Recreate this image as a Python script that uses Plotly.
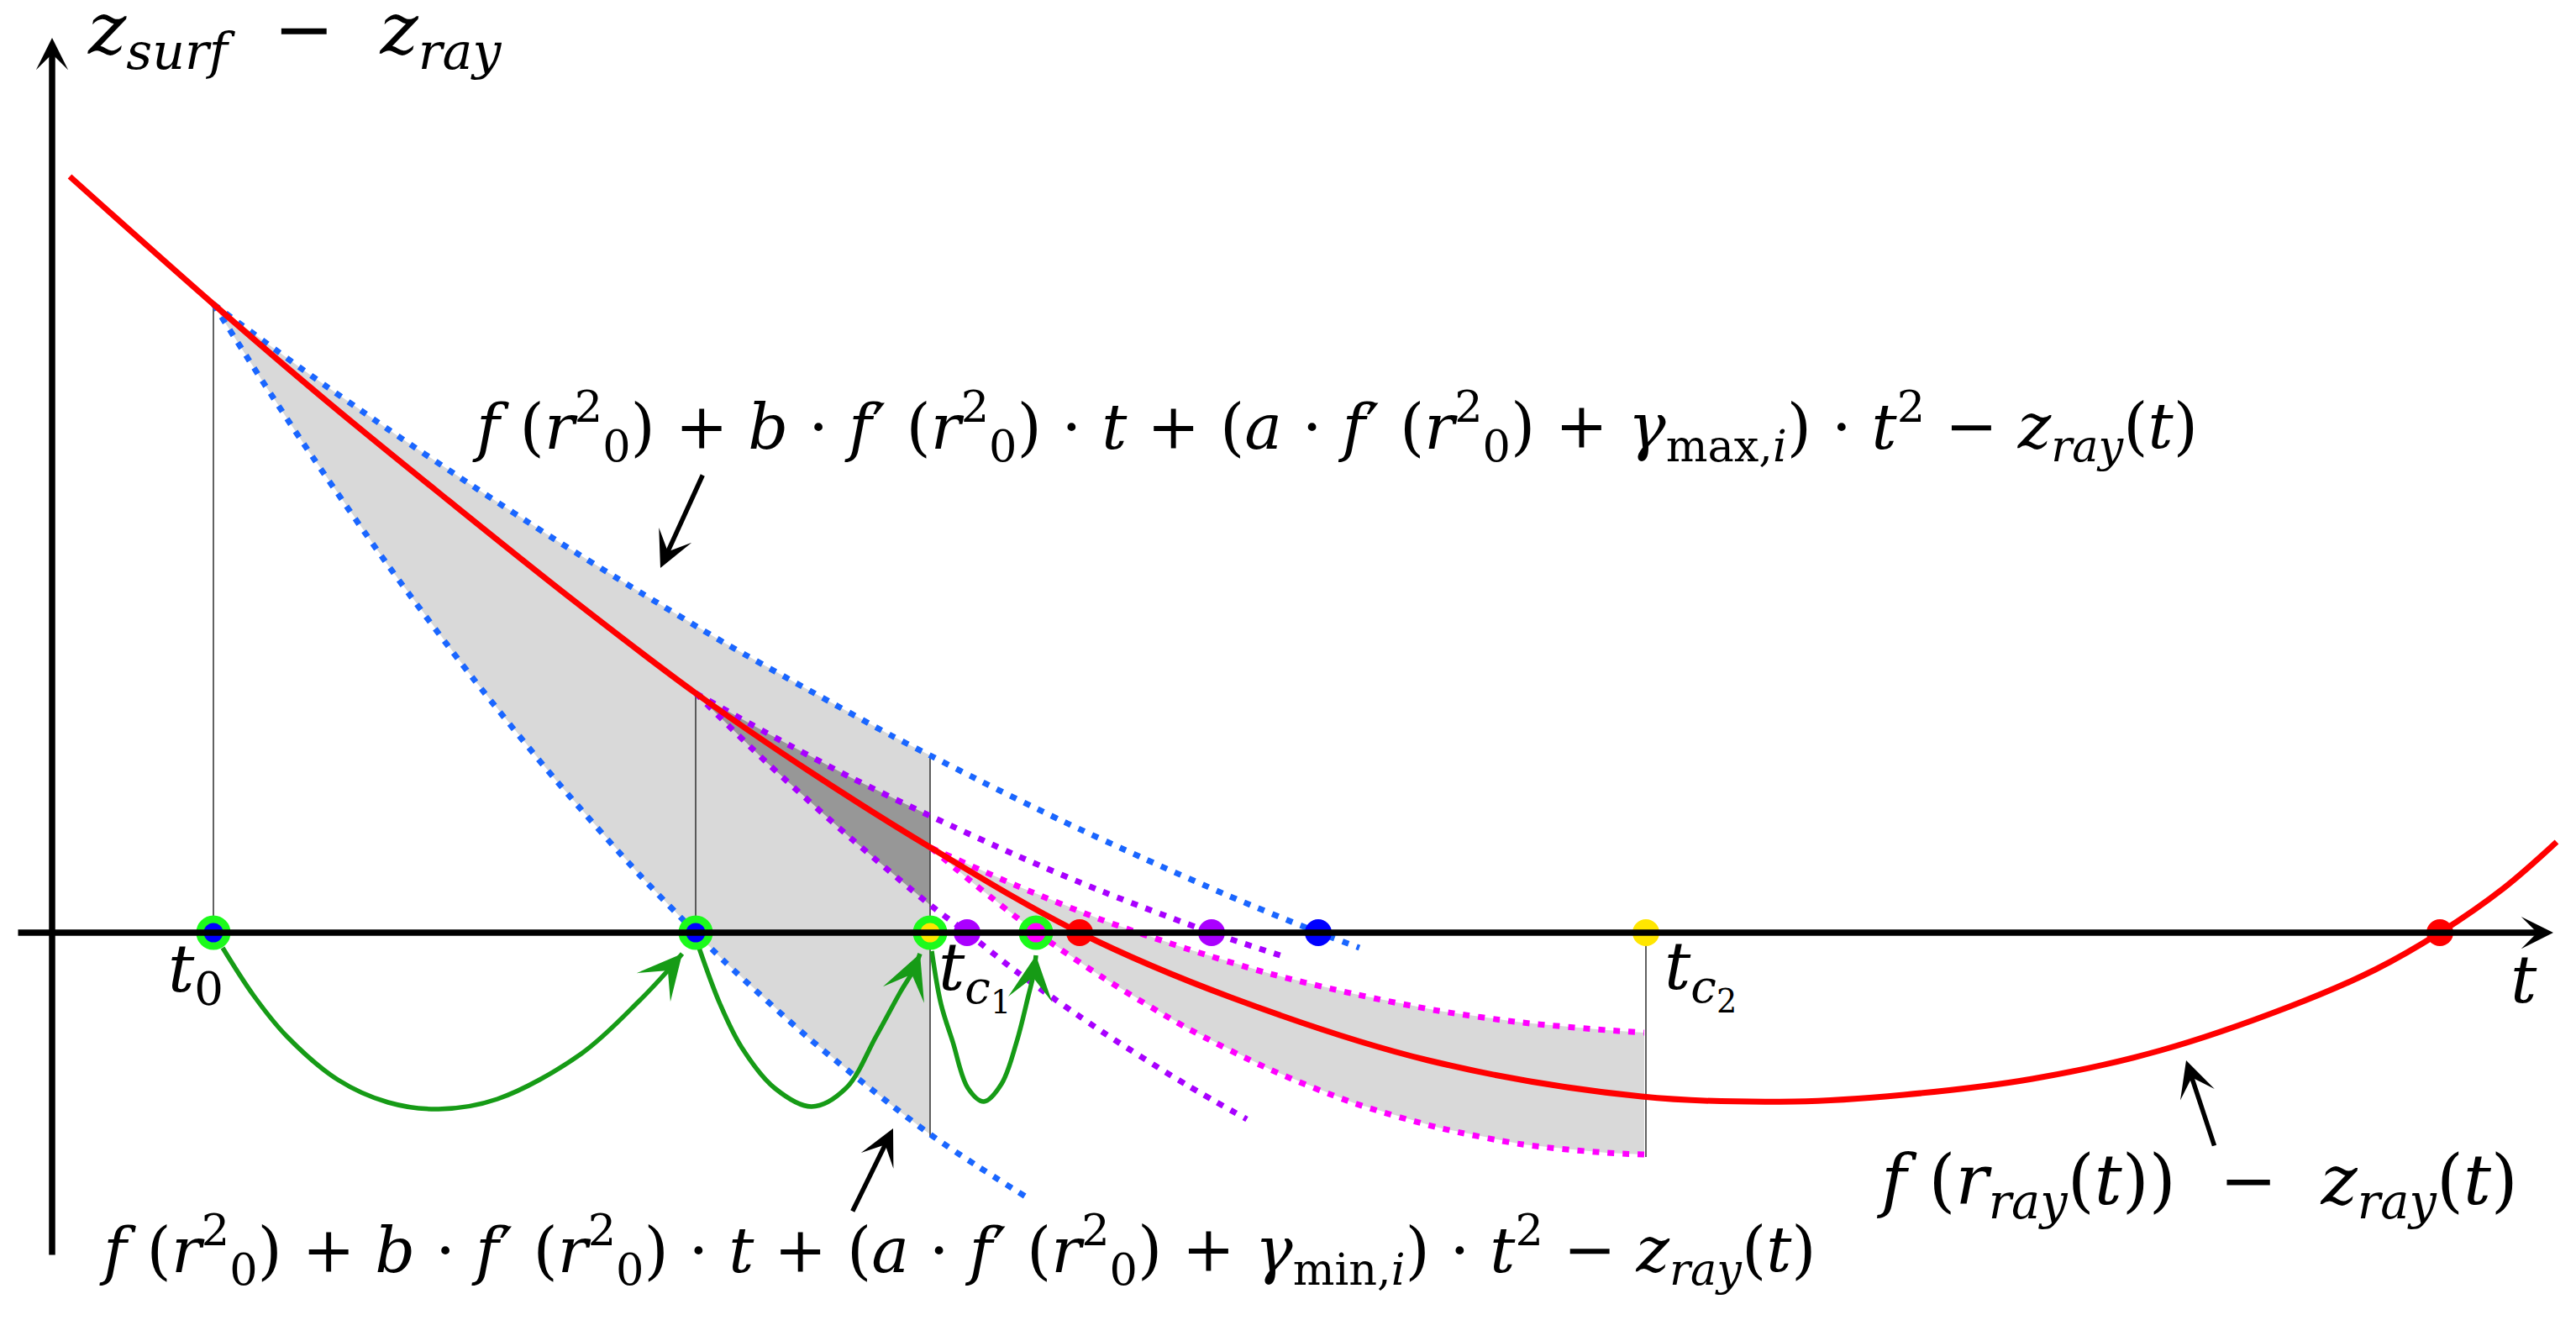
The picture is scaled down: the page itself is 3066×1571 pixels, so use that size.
import plotly.graph_objects as go

# ── curves (t along the axis, z = z_surf - z_ray) ──
t_red = [0.21, 1.92, 3.3, 4.71, 6.2, 7.66, 9.0, 10.46, 12.23, 14.03, 16.38, 18.92, 20.74, 22.04, 23.57,
         25.10, 26.63, 27.65, 28.42, 29.18, 29.81]
z_red = [9.00, 7.48, 6.30, 5.15, 3.96, 2.85, 1.93, 1.01, 0.00, -0.77, -1.52, -1.95, -2.01, -1.93, -1.74,
         -1.40, -0.88, -0.44, 0.00, 0.53, 1.08]

# bounds from t0 (blue)
t_blue_up = [1.92, 3, 4, 5, 6, 7, 8, 9, 10, 10.45, 11, 12, 13, 14, 15, 15.56]
z_blue_up = [7.48, 6.69, 5.99, 5.32, 4.67, 4.05, 3.45, 2.89, 2.34, 2.11, 1.83, 1.34, 0.88, 0.44, 0.03, -0.18]
t_blue_lo = [1.92, 2.5, 3, 4, 5, 6, 7, 7.66, 8, 9, 10, 10.45, 11, 11.6]
z_blue_lo = [7.48, 6.57, 5.81, 4.37, 3.04, 1.81, 0.68, 0.00, -0.34, -1.25, -2.06, -2.40, -2.77, -3.15]

# bounds from t1 (purple)
t_purp_up = [7.66, 8.5, 9.5, 10.45, 11.5, 12.5, 13.8, 14.71]
z_purp_up = [2.85, 2.38, 1.85, 1.39, 0.91, 0.49, 0.00, -0.30]
t_purp_lo = [7.66, 8.5, 9.5, 10.45, 10.89, 11.5, 12.5, 13.5, 14.22]
z_purp_lo = [2.85, 2.03, 1.13, 0.33, 0.00, -0.48, -1.18, -1.81, -2.22]

# bounds from t_c1 (magenta)
t_mag_up = [10.46, 11.5, 12.5, 13.5, 14.5, 15.5, 16.5, 17.5, 18.5, 18.95]
z_mag_up = [1.01, 0.55, 0.15, -0.19, -0.49, -0.73, -0.93, -1.07, -1.16, -1.19]
t_mag_lo = [10.46, 11, 11.72, 12.5, 13.5, 14.5, 15.5, 16.5, 17.5, 18.5, 18.95]
z_mag_lo = [1.01, 0.56, 0.00, -0.53, -1.13, -1.63, -2.03, -2.32, -2.52, -2.62, -2.64]

# green jumps t0 -> t1 -> t_c1 -> next
jump1_t = [2.03, 2.4, 2.79, 3.4, 4.0, 4.6, 5.3, 6.3, 7.0, 7.33, 7.5]
jump1_z = [-0.18, -0.75, -1.23, -1.75, -2.02, -2.10, -1.98, -1.44, -0.80, -0.45, -0.25]
jump2_t = [7.70, 7.95, 8.21, 8.6, 9.04, 9.45, 9.81, 10.1, 10.25, 10.33]
jump2_z = [-0.18, -0.85, -1.37, -1.85, -2.07, -1.85, -1.23, -0.70, -0.45, -0.25]
jump3_t = [10.47, 10.58, 10.72, 10.9, 11.09, 11.3, 11.48, 11.62, 11.68, 11.71]
jump3_z = [-0.22, -0.85, -1.30, -1.85, -2.01, -1.80, -1.30, -0.75, -0.50, -0.27]

# thin vertical guides
vline_t = [1.92, 7.66, 10.45, 18.97]
vline_top = [7.48, 2.85, 2.11, 0.0]
vline_bot = [0.0, 0.0, -2.43, -2.67]

# points on the t axis
ring_t = [1.92, 7.66, 10.45, 11.71]
ring_fill = ["#0000ff", "#0000ff", "#ffe600", "#ff00ff"]
dot_t = [10.89, 12.23, 13.80, 15.07, 18.97, 28.42]
dot_col = ["#aa00ff", "#ff0000", "#aa00ff", "#0000ff", "#ffe600", "#ff0000"]

FONT = "DejaVu Serif"
DOTS = "8px,10px"

fig = go.Figure()


def region(ta, za, tb, zb, t_end):
    # area between two bounds from their common start up to t_end
    n_a = len([t for t in ta if t <= t_end])
    n_b = len([t for t in tb if t <= t_end])
    return ta[:n_a] + tb[:n_b][::-1], za[:n_a] + zb[:n_b][::-1]


for (ta, za, tb, zb, t_end, col) in [
    (t_blue_up, z_blue_up, t_blue_lo, z_blue_lo, 10.45, "#d9d9d9"),
    (t_mag_up, z_mag_up, t_mag_lo, z_mag_lo, 18.95, "#d9d9d9"),
    (t_purp_up, z_purp_up, t_purp_lo, z_purp_lo, 10.45, "#979797"),
]:
    px, pz = region(ta, za, tb, zb, t_end)
    fig.add_trace(go.Scatter(x=px, y=pz, mode="lines", fill="toself", fillcolor=col,
                             line=dict(width=0), hoverinfo="skip"))

# thin guides
gx, gy = [], []
for t, a, b in zip(vline_t, vline_top, vline_bot):
    gx += [t, t, None]
    gy += [a, b, None]
fig.add_trace(go.Scatter(x=gx, y=gy, mode="lines", line=dict(color="#3a3a3a", width=1.6), hoverinfo="skip"))

# dotted bounds
for t, z, col in [
    (t_blue_up, z_blue_up, "#1a66ff"), (t_blue_lo, z_blue_lo, "#1a66ff"),
    (t_purp_up, z_purp_up, "#a800ff"), (t_purp_lo, z_purp_lo, "#a800ff"),
    (t_mag_up, z_mag_up, "#ff00ff"), (t_mag_lo, z_mag_lo, "#ff00ff"),
]:
    fig.add_trace(go.Scatter(x=t, y=z, mode="lines",
                             line=dict(color=col, width=7, dash=DOTS, shape="spline", smoothing=0.8),
                             hoverinfo="skip"))

# red function
fig.add_trace(go.Scatter(x=t_red, y=z_red, mode="lines",
                         line=dict(color="#ff0000", width=7, shape="spline", smoothing=1.0),
                         hoverinfo="skip"))

# green jumps
GREEN = "#169b16"
for jt, jz in [(jump1_t, jump1_z), (jump2_t, jump2_z), (jump3_t, jump3_z)]:
    fig.add_trace(go.Scatter(x=jt, y=jz, mode="lines",
                             line=dict(color=GREEN, width=5.5, shape="spline", smoothing=1),
                             hoverinfo="skip"))
    fig.add_annotation(x=jt[-1], y=jz[-1], ax=jt[-2], ay=jz[-2], xref="x", yref="y", axref="x", ayref="y",
                       text="", showarrow=True, arrowhead=3, arrowsize=1.6, arrowwidth=5.5, arrowcolor=GREEN)

# axes (drawn as arrows)
fig.add_annotation(x=29.77, y=0, ax=-0.42, ay=0, xref="x", yref="y", axref="x", ayref="y",
                   text="", showarrow=True, arrowhead=3, arrowsize=0.85, arrowwidth=7.5, arrowcolor="black")
fig.add_annotation(x=0, y=10.65, ax=0, ay=-3.85, xref="x", yref="y", axref="x", ayref="y",
                   text="", showarrow=True, arrowhead=3, arrowsize=0.85, arrowwidth=7.5, arrowcolor="black")

# pointer arrows to the curves
for (x, y, ax, ay) in [(7.24, 4.34, 7.75, 5.46), (10.01, -2.33, 9.52, -3.33), (25.40, -1.52, 25.74, -2.55)]:
    fig.add_annotation(x=x, y=y, ax=ax, ay=ay, xref="x", yref="y", axref="x", ayref="y",
                       text="", showarrow=True, arrowhead=3, arrowsize=1.3, arrowwidth=5.5, arrowcolor="black")

# points on the axis
fig.add_trace(go.Scatter(x=ring_t, y=[0] * len(ring_t), mode="markers",
                         marker=dict(size=32, color=ring_fill, line=dict(color="#1cfa1c", width=9)),
                         hoverinfo="skip"))
fig.add_trace(go.Scatter(x=dot_t, y=[0] * len(dot_t), mode="markers",
                         marker=dict(size=32, color=dot_col, line=dict(width=0)),
                         hoverinfo="skip"))

# texts
upper = ("<i>f</i> (<i>r</i><sup>2</sup><sub>0</sub>) + <i>b</i> · <i>f</i>′ (<i>r</i><sup>2</sup><sub>0</sub>) · <i>t</i> + "
         "(<i>a</i> · <i>f</i>′ (<i>r</i><sup>2</sup><sub>0</sub>) + <i>γ</i><sub>max,<i>i</i></sub>) · <i>t</i><sup>2</sup>"
         " − <i>z</i><sub><i>ray</i></sub>(<i>t</i>)")
lower = upper.replace("max", "min")
labels = [
    ("<i>z</i><sub><i>surf</i></sub>  −  <i>z</i><sub><i>ray</i></sub>", 0.40, 10.70, "left", 86),
    ("<i>t</i><sub>0</sub>", 1.36, -0.48, "left", 78),
    ("<i>t</i><sub><i>c</i><sub>1</sub></sub>", 10.53, -0.50, "left", 78),
    ("<i>t</i><sub><i>c</i><sub>2</sub></sub>", 19.17, -0.49, "left", 78),
    ("<i>t</i>", 29.24, -0.56, "left", 78),
    (upper, 4.98, 6.03, "left", 75),
    (lower, 0.54, -3.77, "left", 75),
    ("<i>f</i> (<i>r</i><sub><i>ray</i></sub>(<i>t</i>))  −  <i>z</i><sub><i>ray</i></sub>(<i>t</i>)", 21.69, -3.00, "left", 82),
]
for txt, x, y, anchor, size in labels:
    fig.add_annotation(x=x, y=y, xref="x", yref="y", text=txt, showarrow=False,
                       xanchor=anchor, yanchor="middle", font=dict(family=FONT, size=size, color="black"))

fig.update_xaxes(range=[-0.54, 29.96], visible=False)
fig.update_yaxes(range=[-4.53, 11.02], visible=False)
fig.update_layout(width=3050, height=1555, margin=dict(l=0, r=0, t=0, b=0),
                  paper_bgcolor="white", plot_bgcolor="white", showlegend=False)

fig.write_html("out.html")
